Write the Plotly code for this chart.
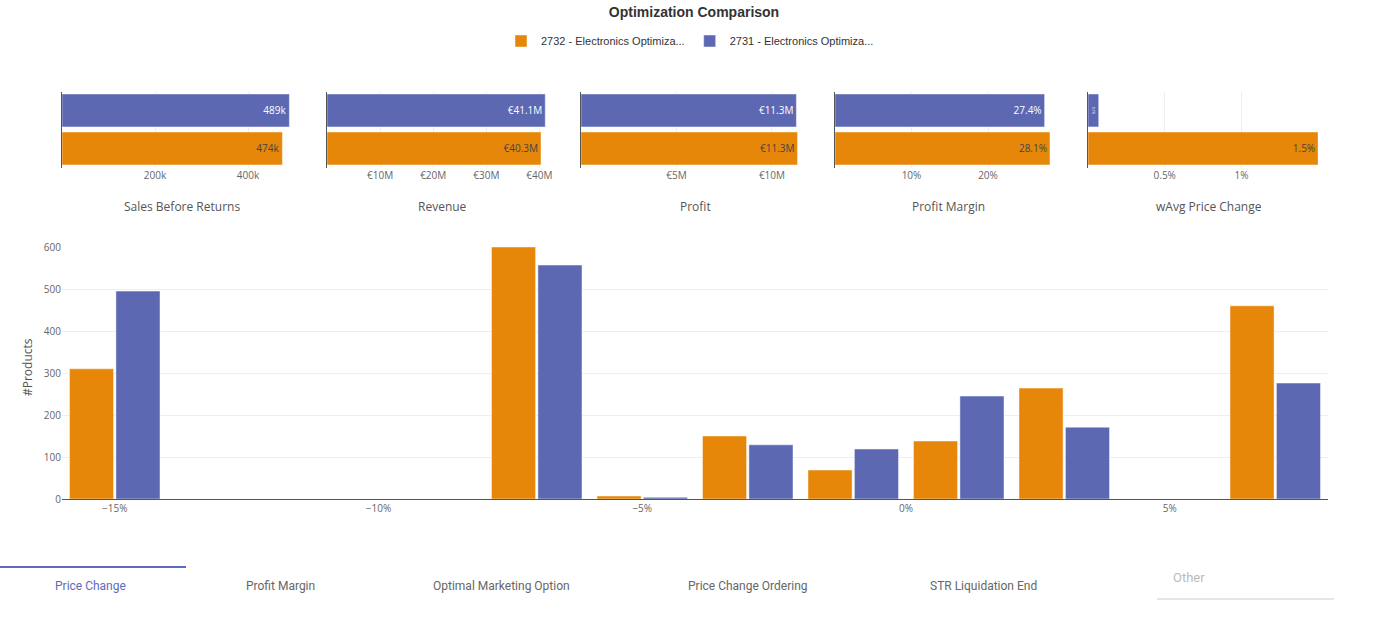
import plotly.graph_objects as go

W, H = 1378, 625

# ---------------- data ----------------
series_names = ["2732 - Electronics Optimiza...", "2731 - Electronics Optimiza..."]
series_colors = ["#E6870A", "#5C69B2"]

# KPI small multiples (orange series first, blue second)
kpi_titles = ["Sales Before Returns", "Revenue", "Profit", "Profit Margin", "wAvg Price Change"]
sales_before_returns = [474000, 489000]
revenue = [40.3e6, 41.1e6]
profit = [11.34e6, 11.28e6]
profit_margin = [28.1, 27.4]
wavg_price_change = [1.5, 0.07]

sales_text = ["474k", "489k"]
revenue_text = ["€40.3M", "€41.1M"]
profit_text = ["€11.3M", "€11.3M"]
margin_text = ["28.1%", "27.4%"]
price_change_text = ["1.5%", "0.1%"]

sales_ticks = [200000, 400000]
sales_tick_labels = ["200k", "400k"]
revenue_ticks = [10e6, 20e6, 30e6, 40e6]
revenue_tick_labels = ["€10M", "€20M", "€30M", "€40M"]
profit_ticks = [5e6, 10e6]
profit_tick_labels = ["€5M", "€10M"]
margin_ticks = [10, 20]
margin_tick_labels = ["10%", "20%"]
price_change_ticks = [0.5, 1]
price_change_tick_labels = ["0.5%", "1%"]

# Main histogram: price change bins (%) and #products
price_change_bins = [-15, -13, -11, -9, -7, -5, -3, -1, 1, 3, 5, 7]
products_2732 = [310, 0, 0, 0, 600, 7, 150, 69, 138, 264, 0, 460]
products_2731 = [495, 0, 0, 0, 557, 4, 129, 119, 245, 171, 0, 276]
main_x_ticks = [-15, -10, -5, 0, 5]
main_x_tick_labels = ["−15%", "−10%", "−5%", "0%", "5%"]
main_y_ticks = [0, 100, 200, 300, 400, 500, 600]

tab_labels = ["Price Change", "Profit Margin", "Optimal Marketing Option",
              "Price Change Ordering", "STR Liquidation End"]

# ---------------- layout helpers ----------------
def fx(px):
    return px / W

def fy(py):
    return 1 - py / H

fig = go.Figure()

kpi_values = [sales_before_returns, revenue, profit, profit_margin, wavg_price_change]
kpi_texts = [sales_text, revenue_text, profit_text, margin_text, price_change_text]
kpi_ticks = [sales_ticks, revenue_ticks, profit_ticks, margin_ticks, price_change_ticks]
kpi_tick_labels = [sales_tick_labels, revenue_tick_labels, profit_tick_labels,
                   margin_tick_labels, price_change_tick_labels]
# pixel geometry of each small multiple: (left, right) and range max
kpi_px = [(62, 292, 494600), (327, 552, 42.37e6), (581, 805, 11.73e6),
          (835, 1058, 29.15), (1088, 1318, 1.499)]
kpi_title_x = [182, 442, 695, 948, 1209]
# bar band geometry within the single category slot (range -0.5..0.5)
bar_offsets = [-0.46, 0.04]
bar_width = 0.434

line_col = "rgba(255,255,255,0.45)"

for i in range(5):
    ax = i + 1
    xa = "x" if ax == 1 else f"x{ax}"
    ya = "y" if ax == 1 else f"y{ax}"
    for s in range(2):
        fig.add_trace(go.Bar(
            x=[kpi_values[i][s]], y=[0], orientation="h",
            offset=bar_offsets[s], width=bar_width,
            name=series_names[s], legendgroup=series_names[s], showlegend=False,
            marker=dict(color=series_colors[s], line=dict(color=line_col, width=1)),
            text=[kpi_texts[i][s]], textposition="inside", insidetextanchor="end",
            textfont=dict(size=10, family="Open Sans"),
            xaxis=xa, yaxis=ya, hoverinfo="skip",
        ))
    l, r, mx = kpi_px[i]
    fig.update_layout(**{
        ("xaxis" if ax == 1 else f"xaxis{ax}"): dict(
            domain=[fx(l), fx(r)], range=[0, mx], anchor=ya,
            tickmode="array", tickvals=kpi_ticks[i], ticktext=kpi_tick_labels[i],
            showgrid=True, gridcolor="#eeeeee",
            zeroline=False, showline=False, ticks="",
            tickfont=dict(size=10, color="#666", family="Open Sans"),
            automargin=False, fixedrange=True,
        ),
        ("yaxis" if ax == 1 else f"yaxis{ax}"): dict(
            domain=[fy(168), fy(92)], anchor=xa, range=[-0.5, 0.5], showticklabels=False,
            showgrid=False, zeroline=False, showline=True, linecolor="#555",
            linewidth=1, ticks="", automargin=False, fixedrange=True,
        ),
    })

# main histogram
for s, vals in enumerate([products_2732, products_2731]):
    fig.add_trace(go.Bar(
        x=price_change_bins, y=vals, name=series_names[s], legendgroup=series_names[s],
        marker=dict(color=series_colors[s], line=dict(color=line_col, width=1)),
        xaxis="x6", yaxis="y6",
    ))

fig.update_layout(
    xaxis6=dict(domain=[fx(62), fx(1328)], range=[-16, 8], anchor="y6",
                tickmode="array", tickvals=main_x_ticks, ticktext=main_x_tick_labels,
                showgrid=False, zeroline=False,
                showline=True, linecolor="#555", linewidth=1, ticks="",
                tickfont=dict(size=10, color="#666", family="Open Sans"), automargin=False),
    yaxis6=dict(domain=[fy(499), fy(247)], range=[0, 600], anchor="x6",
                tickmode="array", tickvals=main_y_ticks, showgrid=True, gridcolor="#eeeeee",
                zeroline=False, ticks="", tickfont=dict(size=10, color="#666", family="Open Sans"),
                automargin=False),
)

annotations = []
for i, t in enumerate(kpi_titles):
    annotations.append(dict(text=t, x=fx(kpi_title_x[i]), y=fy(206), xref="paper", yref="paper",
                            showarrow=False, xanchor="center", yanchor="middle",
                            font=dict(size=12, color="#555", family="Open Sans")))
annotations.append(dict(text="#Products", x=fx(27), y=fy(367), xref="paper", yref="paper",
                        showarrow=False, textangle=-90, xanchor="center", yanchor="middle",
                        font=dict(size=12, color="#555", family="Open Sans")))
tab_x = [90, 280, 501, 748, 983]
for i, t in enumerate(tab_labels):
    annotations.append(dict(text=t, x=fx(tab_x[i]), y=fy(586), xref="paper", yref="paper",
                            showarrow=False, xanchor="center", yanchor="middle",
                            font=dict(size=12, family="Roboto",
                                      color="#5C6BC0" if i == 0 else "#666")))
annotations.append(dict(text="Other", x=fx(1171), y=fy(577), xref="paper", yref="paper",
                        showarrow=False, xanchor="left", yanchor="middle",
                        font=dict(size=13, family="Roboto", color="#bbb")))

shapes = [
    dict(type="line", xref="paper", yref="paper", x0=fx(0), x1=fx(186), y0=fy(567), y1=fy(567),
         line=dict(color="#5C6BC0", width=2)),
    dict(type="line", xref="paper", yref="paper", x0=fx(1157), x1=fx(1334), y0=fy(599), y1=fy(599),
         line=dict(color="#cccccc", width=1)),
]

fig.update_layout(
    width=W, height=H,
    margin=dict(l=0, r=0, t=0, b=0),
    paper_bgcolor="white", plot_bgcolor="white",
    barmode="group", bargap=0.12, bargroupgap=0.05,
    title=dict(text="<b>Optimization Comparison</b>", x=fx(694), y=fy(12),
               xanchor="center", yanchor="middle", xref="paper", yref="container",
               font=dict(size=14, color="#333", family="Liberation Sans")),
    legend=dict(orientation="h", x=fx(690), y=fy(41), xanchor="center", yanchor="middle",
                font=dict(size=11, color="#333", family="Liberation Sans"),
                itemwidth=30, tracegroupgap=0),
    showlegend=True,
    annotations=annotations, shapes=shapes,
    font=dict(family="Open Sans"),
)

fig.write_html("out.html")
